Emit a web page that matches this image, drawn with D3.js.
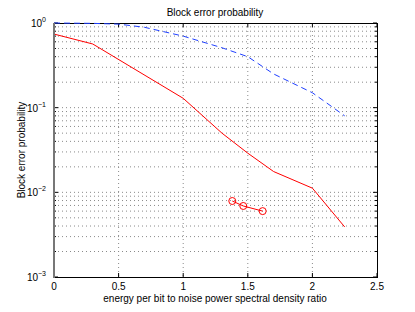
<!DOCTYPE html>
<html><head><meta charset="utf-8">
<script src="https://cdn.jsdelivr.net/npm/d3@7"></script>
<style>body{margin:0;background:#fff}svg{display:block}text{font-family:"Liberation Sans",Arial,sans-serif;fill:#000}</style>
</head><body><svg id="c" width="415" height="312"></svg>
<script>
const title = "Block error probability";
const xLabel = "energy per bit to noise power spectral density ratio";
const yLabel = "Block error probability";
const xTicks = [0, 0.5, 1, 1.5, 2, 2.5];
const yTicks = [1e-3, 1e-2, 1e-1, 1];
const yTickExp = ["-3", "-2", "-1", "0"];
const redX = [0, 0.3, 1.0, 1.3, 1.5, 1.7, 2.0, 2.25];
const redY = [0.74, 0.565, 0.129, 0.05, 0.029, 0.0176, 0.0112, 0.0039];
const blueX = [0, 0.3, 0.5, 0.7, 1.0, 1.3, 1.5, 1.7, 2.0, 2.25];
const blueY = [1.0, 0.99, 0.97, 0.89, 0.70, 0.51, 0.40, 0.25, 0.15, 0.08];
const circX = [1.38, 1.465, 1.615];
const circY = [0.0079, 0.0069, 0.006];

const L = 54, R = 377, T = 23, B = 277;
const svg = d3.select("#c");
const x = d3.scaleLinear().domain([0, 2.5]).range([L, R]);
const y = d3.scaleLog().domain([1e-3, 1]).range([B, T]);

// grid
const minor = [];
for (let e = -3; e < 0; e++) for (let k = 1; k <= 9; k++) minor.push(k * Math.pow(10, e));
const g = svg.append("g");
g.selectAll("line.h").data(minor.filter(v => v > 1e-3)).enter().append("line")
  .attr("x1", L).attr("x2", R).attr("y1", d => y(d)).attr("y2", d => y(d))
  .attr("stroke", "#8a8a8a").attr("stroke-width", 1).attr("stroke-dasharray", "1,3");
g.selectAll("line.v").data(xTicks.slice(1, -1)).enter().append("line")
  .attr("y1", T).attr("y2", B).attr("x1", d => x(d)).attr("x2", d => x(d))
  .attr("stroke", "#8a8a8a").attr("stroke-width", 1).attr("stroke-dasharray", "1,3");

// axes ticks
const ax = svg.append("g");
xTicks.forEach(v => {
  ax.append("line").attr("x1", x(v)).attr("x2", x(v)).attr("y1", B).attr("y2", B - 4).attr("stroke", "#000");
  ax.append("line").attr("x1", x(v)).attr("x2", x(v)).attr("y1", T).attr("y2", T + 4).attr("stroke", "#000");
  ax.append("text").attr("x", x(v)).attr("y", B + 13).attr("text-anchor", "middle").attr("font-size", 10).text(d3.format("")(v));
});
minor.concat([1]).forEach(v => {
  const major = Math.abs(Math.log10(v) - Math.round(Math.log10(v))) < 1e-9;
  const len = major ? 4 : 2;
  ax.append("line").attr("x1", L).attr("x2", L + len).attr("y1", y(v)).attr("y2", y(v)).attr("stroke", "#000");
  ax.append("line").attr("x1", R).attr("x2", R - len).attr("y1", y(v)).attr("y2", y(v)).attr("stroke", "#000");
});
yTicks.forEach((v, i) => {
  const t = ax.append("text").attr("x", 46).attr("y", y(v) + 4).attr("text-anchor", "end").attr("font-size", 10);
  t.append("tspan").text("10");
  t.append("tspan").attr("dy", -5).attr("font-size", 7).text(yTickExp[i].replace("-", "\u2212"));
});

// frame
svg.append("line").attr("x1", L).attr("x2", R).attr("y1", T + 0.5).attr("y2", T + 0.5).attr("stroke", "#000");
svg.append("line").attr("x1", L).attr("x2", R).attr("y1", B + 0.5).attr("y2", B + 0.5).attr("stroke", "#000");
svg.append("line").attr("x1", R + 0.5).attr("x2", R + 0.5).attr("y1", T).attr("y2", B + 1).attr("stroke", "#000");

// series
const line = d3.line().x(d => x(d[0])).y(d => y(d[1]));
svg.append("path").datum(blueX.map((v, i) => [v, blueY[i]])).attr("d", line)
  .attr("fill", "none").attr("stroke", "#2040ff").attr("stroke-width", 1).attr("stroke-dasharray", "6,4");
svg.append("path").datum(redX.map((v, i) => [v, redY[i]])).attr("d", line)
  .attr("fill", "none").attr("stroke", "#ff0000").attr("stroke-width", 1);
const cd = circX.map((v, i) => [v, circY[i]]);
svg.append("path").datum(cd).attr("d", line).attr("fill", "none").attr("stroke", "#ff0000").attr("stroke-width", 1);
svg.selectAll("circle.m").data(cd).enter().append("circle")
  .attr("cx", d => x(d[0])).attr("cy", d => y(d[1])).attr("r", 3.5)
  .attr("fill", "none").attr("stroke", "#ff0000").attr("stroke-width", 1);

// left axis line (gray, thick)
svg.append("line").attr("x1", L).attr("x2", L).attr("y1", T).attr("y2", B + 1).attr("stroke", "#777").attr("stroke-width", 2);

// labels
svg.append("text").attr("x", 215).attr("y", 16).attr("text-anchor", "middle").attr("font-size", 10).text(title);
svg.append("text").attr("x", 215).attr("y", 302).attr("text-anchor", "middle").attr("font-size", 10).text(xLabel);
svg.append("text").attr("transform", "translate(25,150) rotate(-90)").attr("text-anchor", "middle").attr("font-size", 10).text(yLabel);
</script></body></html>
